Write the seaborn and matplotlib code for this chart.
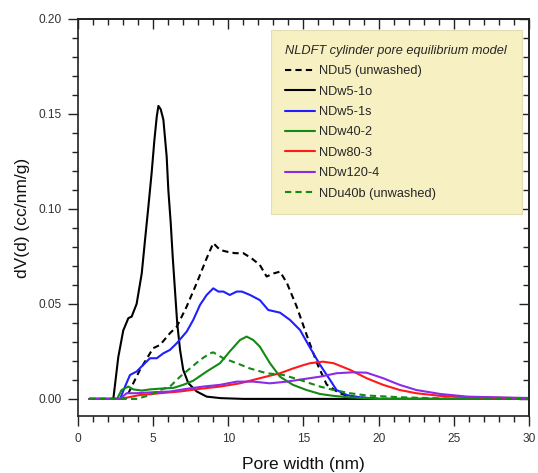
import numpy as np
import pandas as pd
import matplotlib
matplotlib.use("Agg")
import matplotlib.pyplot as plt
import seaborn as sns
from matplotlib.ticker import MultipleLocator

# ---- data ----
ndu5_x = [0.75, 2.5, 3.2, 3.57, 4.12, 5.0, 5.46, 6.12, 6.57, 7.23, 7.9, 8.56, 9.0, 9.45, 9.9,
          10.45, 11.0, 11.55, 12.1, 12.55, 13.0, 13.44, 13.9, 14.55, 15.2, 15.9, 16.55, 17.4,
          18.1, 20.0, 30.0]
ndu5_y = [0.0, 0.0, 0.0005, 0.0065, 0.0153, 0.0267, 0.0284, 0.0346, 0.038, 0.0486, 0.061,
          0.074, 0.082, 0.0784, 0.0775, 0.0767, 0.0767, 0.074, 0.0705, 0.0644, 0.066, 0.067,
          0.061, 0.0486, 0.0340, 0.0188, 0.0075, 0.003, 0.0012, 0.0, 0.0]

ndw51o_x = [0.75, 2.35, 2.68, 3.01, 3.35, 3.57, 3.9, 4.24, 4.46, 4.68, 4.9, 5.08, 5.24, 5.35,
            5.5, 5.68, 5.9, 6.01, 6.17, 6.3, 6.45, 6.6, 6.79, 7.0, 7.34, 7.9, 8.56, 9.5,
            11.0, 30.0]
ndw51o_y = [0.0, 0.0, 0.022, 0.036, 0.0425, 0.0433, 0.050, 0.066, 0.0837, 0.101, 0.119,
            0.136, 0.1486, 0.1542, 0.1525, 0.147, 0.1275, 0.110, 0.0925, 0.075, 0.0574,
            0.040, 0.0258, 0.0153, 0.0083, 0.0039, 0.0012, 0.0004, 0.0, 0.0]

ndw51s_x = [0.75, 2.8, 3.13, 3.46, 3.9, 4.35, 4.79, 5.24, 5.68, 6.12, 6.57, 7.23, 7.67, 8.12,
            8.56, 9.0, 9.34, 9.67, 10.1, 10.56, 10.9, 11.45, 12.1, 12.66, 13.44, 14.1, 14.77,
            15.4, 16.1, 16.77, 17.2, 17.9, 18.8, 20.0, 30.0]
ndw51s_y = [0.0, 0.0, 0.0065, 0.0126, 0.0144, 0.018, 0.0214, 0.0214, 0.024, 0.0258, 0.0293,
            0.0354, 0.0416, 0.0495, 0.0547, 0.0582, 0.0565, 0.0565, 0.0547, 0.0565, 0.0565,
            0.0547, 0.052, 0.0468, 0.0454, 0.0416, 0.0363, 0.0275, 0.0180, 0.010, 0.0047,
            0.002, 0.0008, 0.0, 0.0]

ndw402_x = [0.75, 2.6, 2.9, 3.35, 3.68, 4.24, 4.79, 5.46, 6.35, 7.0, 7.67, 8.56, 9.45, 10.1,
            10.78, 11.22, 11.66, 12.1, 12.77, 13.44, 14.3, 15.2, 16.1, 17.0, 18.1, 20.0, 30.0]
ndw402_y = [0.0, 0.0, 0.0047, 0.0065, 0.005, 0.0044, 0.005, 0.0054, 0.0058, 0.0074, 0.0096,
            0.0144, 0.0188, 0.025, 0.031, 0.0328, 0.031, 0.0275, 0.0188, 0.0117, 0.0074,
            0.0047, 0.0026, 0.0016, 0.0008, 0.0, 0.0]

ndw803_x = [0.75, 2.8, 4.1, 5.46, 6.79, 8.12, 9.45, 10.78, 12.1, 13.44, 14.3, 15.0, 15.45,
            16.3, 17.0, 18.1, 19.2, 20.3, 21.4, 22.5, 24.1, 25.9, 29.0, 30.0]
ndw803_y = [0.0, 0.0, 0.002, 0.003, 0.0039, 0.0053, 0.0065, 0.0082, 0.0109, 0.0135, 0.016,
            0.0178, 0.0188, 0.0196, 0.0188, 0.0153, 0.0109, 0.0074, 0.0047, 0.003, 0.0016,
            0.0009, 0.0005, 0.0004]

ndw1204_x = [0.75, 2.8, 3.24, 3.9, 5.0, 6.12, 7.23, 8.34, 9.45, 10.56, 11.66, 12.77, 13.9,
             15.0, 16.1, 17.2, 18.3, 19.2, 20.3, 21.4, 22.5, 24.1, 25.9, 29.0, 30.0]
ndw1204_y = [0.0, 0.0, 0.003, 0.003, 0.0035, 0.0039, 0.0053, 0.0065, 0.0074, 0.0091, 0.0091,
             0.0082, 0.0091, 0.0104, 0.0117, 0.0135, 0.014, 0.0138, 0.0109, 0.0074, 0.0047,
             0.0026, 0.0012, 0.0006, 0.0005]

ndu40b_x = [0.75, 3.9, 4.79, 5.46, 6.12, 6.79, 7.45, 8.12, 8.78, 9.0, 9.67, 10.56, 11.45,
            12.55, 13.66, 14.77, 15.45, 16.1, 17.0, 18.1, 19.2, 21.4, 25.0, 30.0]
ndu40b_y = [0.0, 0.0, 0.002, 0.0047, 0.0065, 0.0117, 0.016, 0.0205, 0.024, 0.0245, 0.0214,
            0.0188, 0.016, 0.0135, 0.0126, 0.010, 0.0082, 0.0065, 0.0047, 0.003, 0.0018,
            0.0009, 0.0, 0.0]

labels = ["NDu5 (unwashed)", "NDw5-1o", "NDw5-1s", "NDw40-2", "NDw80-3", "NDw120-4",
          "NDu40b (unwashed)"]
colors = ["#000000", "#000000", "#1f1fff", "#138a13", "#ff1a1a", "#8b2be8", "#138a13"]
dashed = [True, False, False, False, False, False, True]
legend_title = "NLDFT cylinder pore equilibrium model"
x_label = "Pore width (nm)"
y_label = "dV(d) (cc/nm/g)"

series_x = [ndu5_x, ndw51o_x, ndw51s_x, ndw402_x, ndw803_x, ndw1204_x, ndu40b_x]
series_y = [ndu5_y, ndw51o_y, ndw51s_y, ndw402_y, ndw803_y, ndw1204_y, ndu40b_y]

sns.set_theme(style="ticks")
plt.rcParams["font.family"] = ["Liberation Sans", "DejaVu Sans"]

fig = plt.figure(figsize=(5.38, 4.73), dpi=100)
ax = fig.add_axes([0.145, 0.1205, 0.838, 0.8395])

for xs, ys, lab, col, dsh in zip(series_x, series_y, labels, colors, dashed):
    df = pd.DataFrame({"x": xs, "y": ys})
    sns.lineplot(data=df, x="x", y="y", ax=ax, color=col, lw=1.5,
                 linestyle=(0, (3, 2)) if dsh else "-", label=lab, sort=False)

ax.set_xlim(0, 30)
ax.set_ylim(-0.009, 0.20)
ax.xaxis.set_major_locator(MultipleLocator(5))
ax.xaxis.set_minor_locator(MultipleLocator(1))
ax.yaxis.set_major_locator(MultipleLocator(0.05))
ax.yaxis.set_minor_locator(MultipleLocator(0.01))
ax.yaxis.set_major_formatter(matplotlib.ticker.FormatStrFormatter("%.2f"))

for s in ax.spines.values():
    s.set_visible(True)
    s.set_color("#222222")
    s.set_linewidth(1.2)

ax.tick_params(which="both", bottom=True, left=True, top=False, right=False,
               direction="out", colors="#222222", labelcolor="#333333", labelsize=8.6)
ax.tick_params(which="major", length=7, width=1.0, pad=5)
ax.tick_params(which="minor", length=4, width=1.0)

# top / right inward ticks
axt = ax.secondary_xaxis("top")
axt.xaxis.set_major_locator(MultipleLocator(5))
axt.xaxis.set_minor_locator(MultipleLocator(1))
axt.tick_params(which="both", direction="in", labeltop=False, colors="#222222")
axt.tick_params(which="major", length=7, width=1.0)
axt.tick_params(which="minor", length=4, width=1.0)
axr = ax.secondary_yaxis("right")
axr.yaxis.set_major_locator(MultipleLocator(0.05))
axr.yaxis.set_minor_locator(MultipleLocator(0.01))
axr.tick_params(which="both", direction="in", labelright=False, colors="#222222")
axr.tick_params(which="major", length=7, width=1.0)
axr.tick_params(which="minor", length=4, width=1.0)

ax.set_xlabel(x_label, fontsize=12.5, color="#111111", labelpad=9)
ax.set_ylabel(y_label, fontsize=12.5, color="#111111", labelpad=6)

leg = ax.legend(title=legend_title, loc="upper right", bbox_to_anchor=(0.984, 0.972),
                fontsize=9.2, title_fontproperties={"style": "italic", "size": 9.2},
                frameon=True, fancybox=False, facecolor="#f6f0c2", edgecolor="#e4ddb0",
                framealpha=1.0, handlelength=2.35, handletextpad=0.3, labelspacing=0.66,
                borderpad=1.15, borderaxespad=0.0, alignment="left")
leg.get_frame().set_linewidth(0.8)

fig.savefig("out.png", dpi=100)
